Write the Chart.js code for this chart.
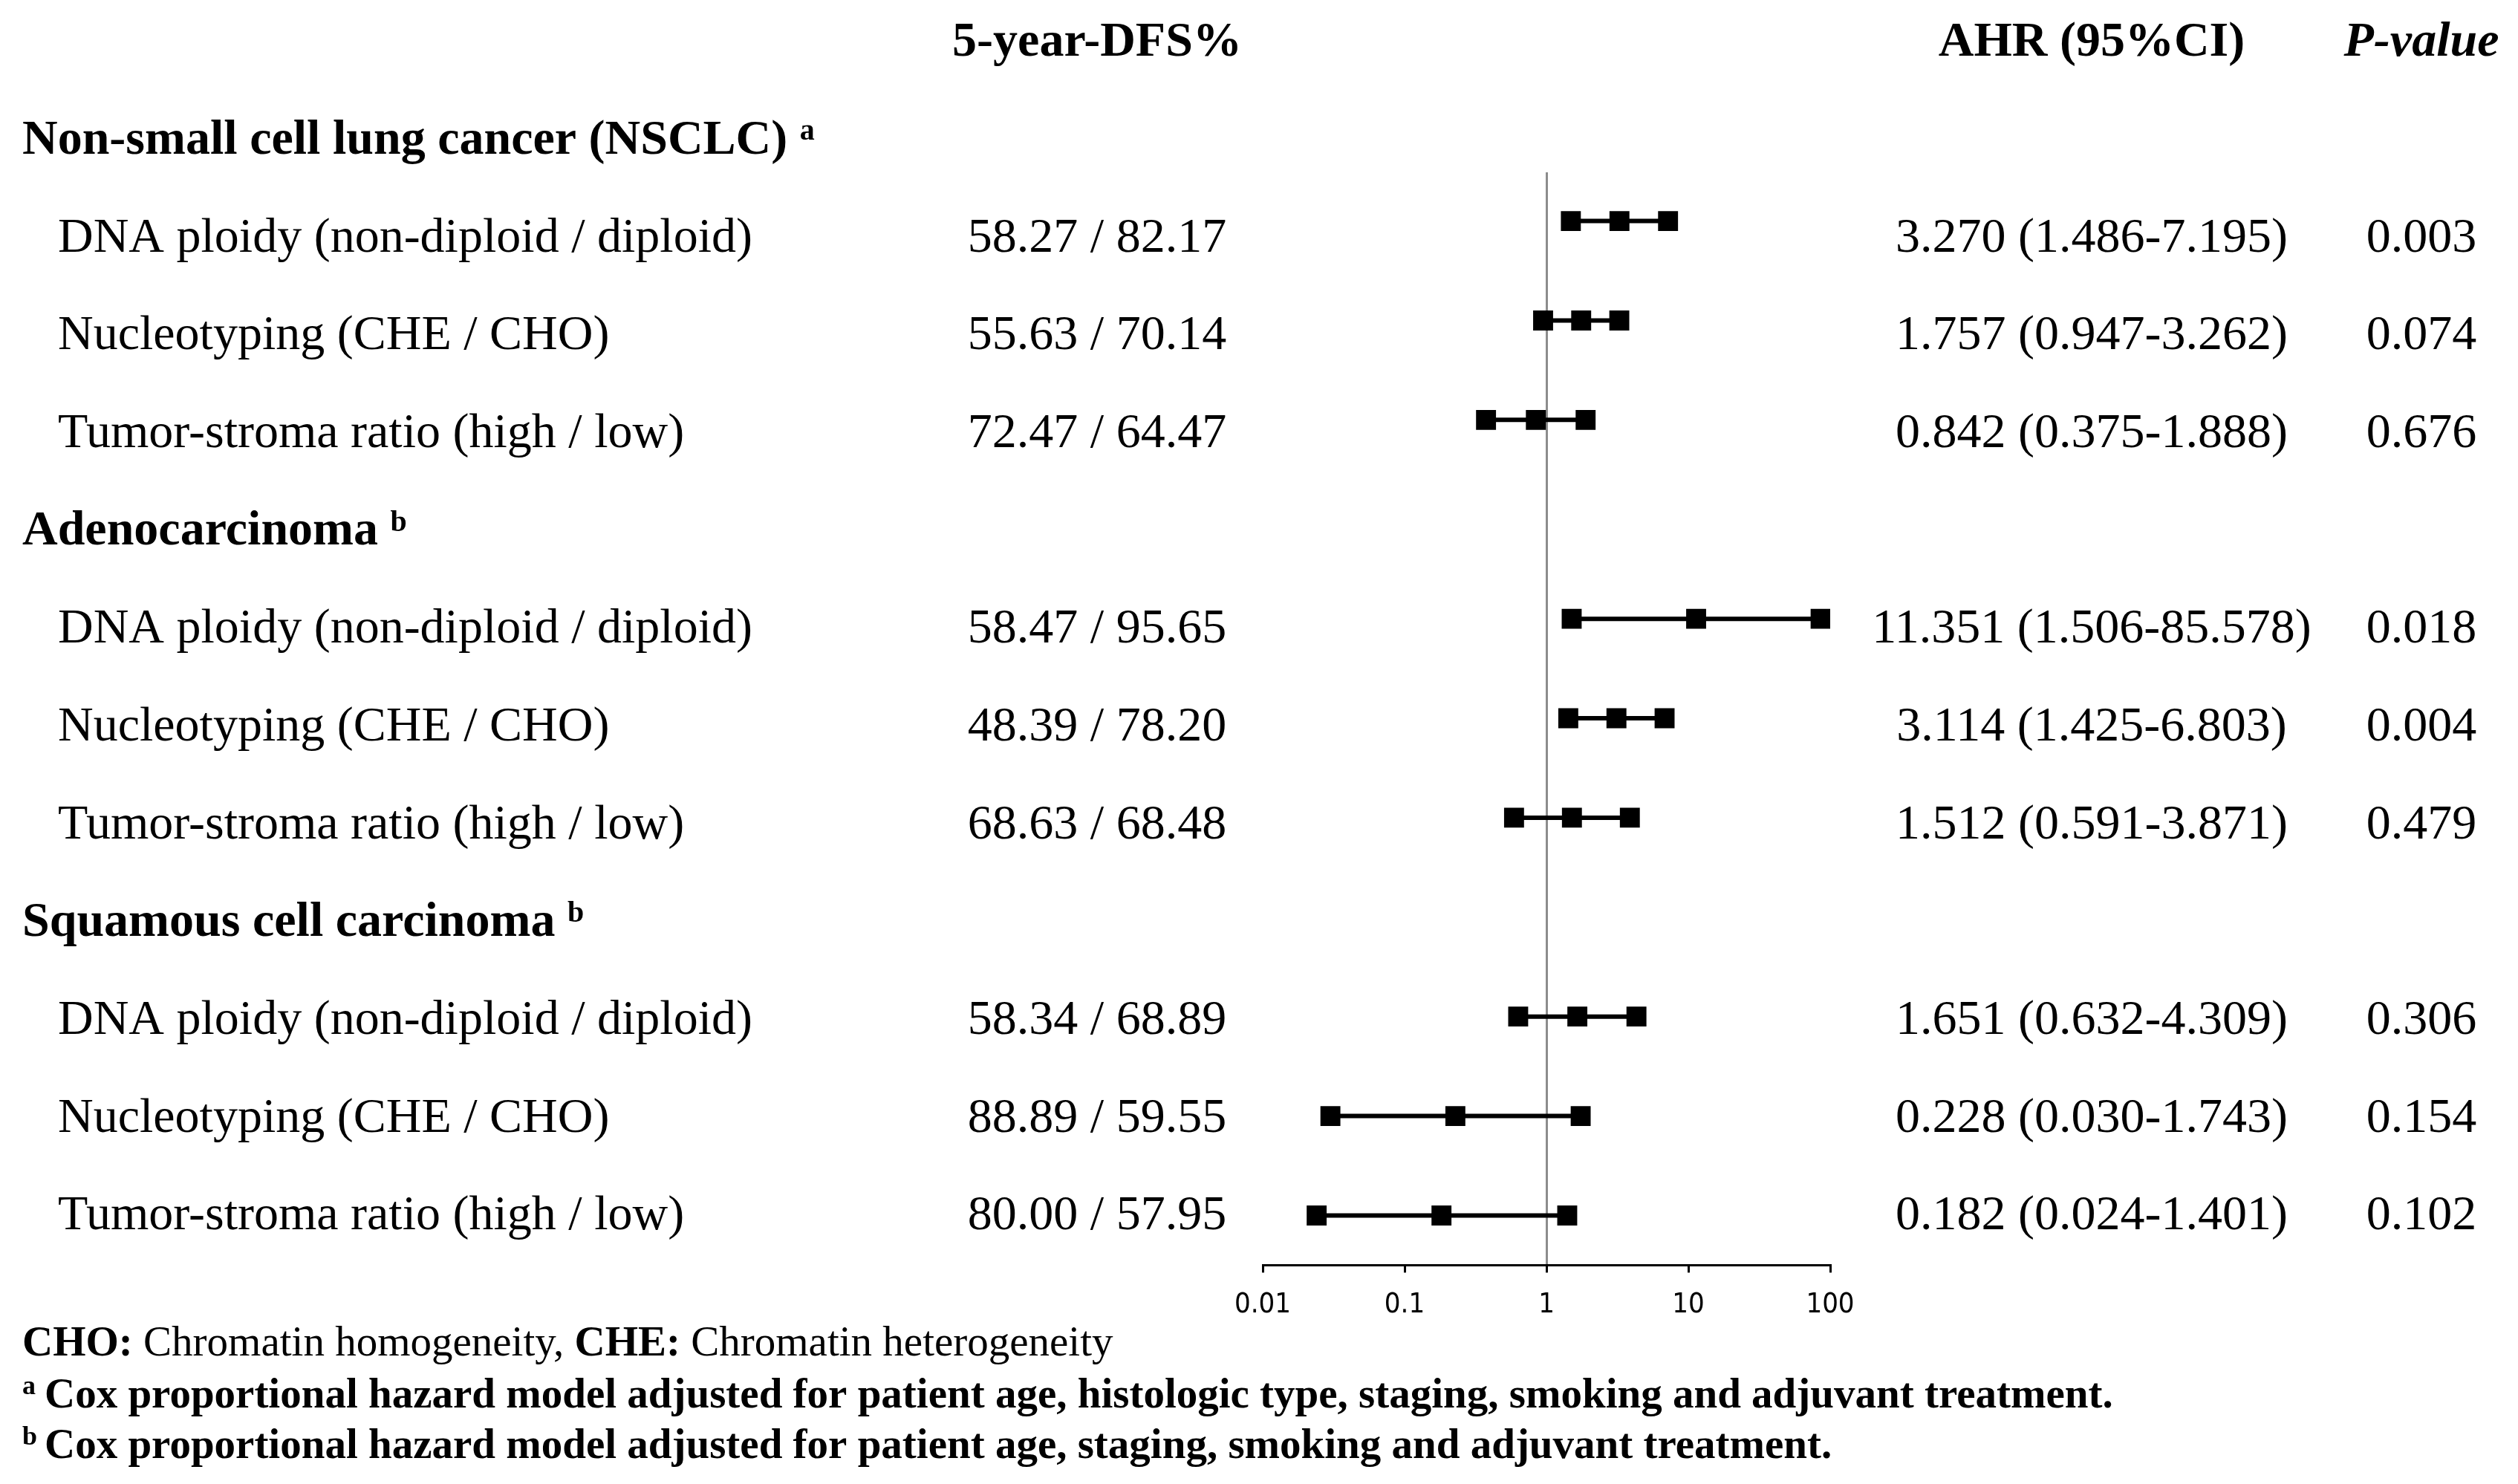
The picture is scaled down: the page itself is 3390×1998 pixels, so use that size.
<!DOCTYPE html>
<html>
<head>
<meta charset="utf-8">
<script src="https://cdn.jsdelivr.net/npm/chart.js@4.4.1/dist/chart.umd.min.js"></script>
<style>
  html, body { margin: 0; padding: 0; background: #fff; }
  canvas { display: block; }
</style>
</head>
<body>
<canvas id="forest" width="3390" height="1998"></canvas>
<script>
// forest plot - 5-year DFS and adjusted hazard ratios

const groupNames = ["Non-small cell lung cancer (NSCLC)", "Adenocarcinoma", "Squamous cell carcinoma"];
const groupNotes = ["a", "b", "b"];
const variables = ["DNA ploidy (non-diploid / diploid)", "Nucleotyping (CHE / CHO)", "Tumor-stroma ratio (high / low)"];

const dfsFirst = [58.27, 55.63, 72.47, 58.47, 48.39, 68.63, 58.34, 88.89, 80.00];
const dfsSecond = [82.17, 70.14, 64.47, 95.65, 78.20, 68.48, 68.89, 59.55, 57.95];
const ahr = [3.270, 1.757, 0.842, 11.351, 3.114, 1.512, 1.651, 0.228, 0.182];
const ciLow = [1.486, 0.947, 0.375, 1.506, 1.425, 0.591, 0.632, 0.030, 0.024];
const ciHigh = [7.195, 3.262, 1.888, 85.578, 6.803, 3.871, 4.309, 1.743, 1.401];
const pValues = [0.003, 0.074, 0.676, 0.018, 0.004, 0.479, 0.306, 0.154, 0.102];

const xTicks = [0.01, 0.1, 1, 10, 100];

const serif = '"Liberation Serif", "Times New Roman", serif';

// one line dataset per row: lower CI - AHR - upper CI
const datasets = ahr.map((v, j) => {
  const k = Math.floor(j / 3) * 4 + (j % 3);
  return {
    data: [{ x: ciLow[j], y: k }, { x: v, y: k }, { x: ciHigh[j], y: k }],
    showLine: true,
    borderColor: "#000",
    borderWidth: 6,
    pointStyle: "rect",
    pointRadius: 19,
    pointBorderWidth: 0,
    pointBackgroundColor: "#000",
    yAxisID: "y"
  };
});

const tableText = {
  id: "tableText",
  afterDraw(chart) {
    const ctx = chart.ctx;
    const yt = chart.scales.yText;
    const colDfs = 1477, colAhr = 2816, colP = 3260;
    const dy = 5;
    ctx.save();
    ctx.fillStyle = "#000";
    ctx.textBaseline = "middle";

    // header
    let y = yt.getPixelForValue(0) + dy;
    ctx.textAlign = "center";
    ctx.font = "bold 66px " + serif;
    ctx.fillText("5-year-DFS%", colDfs, y);
    ctx.fillText("AHR (95%CI)", colAhr, y);
    ctx.font = "italic bold 66px " + serif;
    ctx.fillText("P-value", colP, y);

    groupNames.forEach((name, g) => {
      const t = 1 + g * 4;
      y = yt.getPixelForValue(t) + dy;
      ctx.textAlign = "left";
      ctx.font = "bold 66px " + serif;
      ctx.fillText(name, 30, y);
      const w = ctx.measureText(name + " ").width;
      ctx.font = "bold 40px " + serif;
      ctx.fillText(groupNotes[g], 30 + w, y - 12);

      variables.forEach((v, i) => {
        const j = g * 3 + i;
        const ry = yt.getPixelForValue(t + 1 + i) + dy;
        ctx.font = "66px " + serif;
        ctx.textAlign = "left";
        ctx.fillText(v, 78, ry);
        ctx.textAlign = "center";
        ctx.fillText(dfsFirst[j].toFixed(2) + " / " + dfsSecond[j].toFixed(2), colDfs, ry);
        ctx.fillText(ahr[j].toFixed(3) + " (" + ciLow[j].toFixed(3) + "-" + ciHigh[j].toFixed(3) + ")", colAhr, ry);
        ctx.fillText(pValues[j].toFixed(3), colP, ry);
      });
    });

    // footnotes
    ctx.textAlign = "left";
    const parts = [["CHO:", true], [" Chromatin homogeneity, ", false], ["CHE:", true], [" Chromatin heterogeneity", false]];
    let x = 30;
    parts.forEach(([s, bold]) => {
      ctx.font = (bold ? "bold " : "") + "57px " + serif;
      ctx.fillText(s, x, 1810);
      x += ctx.measureText(s).width;
    });
    const notes = [
      ["a", "Cox proportional hazard model adjusted for patient age, histologic type, staging, smoking and adjuvant treatment.", 1880],
      ["b", "Cox proportional hazard model adjusted for patient age, staging, smoking and adjuvant treatment.", 1948]
    ];
    notes.forEach(([sup, txt, ny]) => {
      ctx.font = "bold 36px " + serif;
      ctx.fillText(sup, 30, ny - 12);
      ctx.font = "bold 57px " + serif;
      ctx.fillText(txt, 60, ny);
    });
    ctx.restore();
  }
};

new Chart(document.getElementById("forest"), {
  type: "scatter",
  data: { datasets },
  options: {
    responsive: false,
    animation: false,
    layout: { padding: { left: 1700, right: 926, top: 232, bottom: 197 } },
    plugins: { legend: { display: false }, tooltip: { enabled: false } },
    scales: {
      x: {
        type: "logarithmic",
        min: 0.01,
        max: 100,
        afterBuildTicks: axis => { axis.ticks = xTicks.map(v => ({ value: v })); },
        border: { display: true, color: "#000", width: 3 },
        grid: {
          color: c => (c.tick && c.tick.value === 1 ? "#8c8c8c" : "rgba(0,0,0,0)"),
          lineWidth: 3,
          tickColor: "#000",
          tickWidth: 3,
          tickLength: 10
        },
        ticks: {
          color: "#000",
          padding: 21,
          maxRotation: 0,
          autoSkip: false,
          font: { family: '"Liberation Sans Narrow", "DejaVu Sans Condensed", "Liberation Sans", sans-serif', size: 38 },
          callback: v => String(v)
        }
      },
      y: { type: "linear", reverse: true, min: -0.49, max: 10.5, display: false },
      yText: { type: "linear", axis: "y", reverse: true, min: 1.358, max: 12.536, display: false }
    }
  },
  plugins: [tableText]
});
</script>
</body>
</html>
